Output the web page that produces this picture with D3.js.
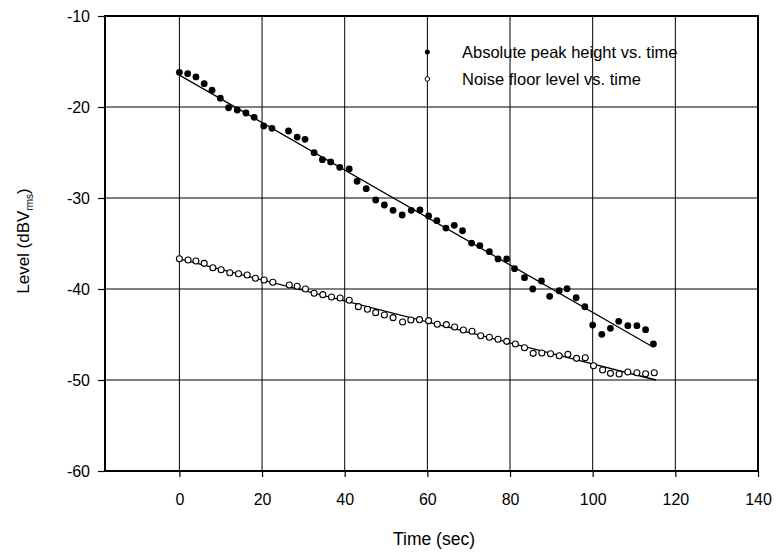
<!DOCTYPE html>
<html><head><meta charset="utf-8">
<script src="https://cdn.jsdelivr.net/npm/d3@7"></script>
<style>
html,body{margin:0;padding:0;background:#fff;}
text{font-family:"Liberation Sans",Arial,Helvetica,sans-serif;fill:#000;}
</style></head>
<body>
<svg id="chart" width="779" height="556"></svg>
<script>
// ---- data ----
const peakTime = [0,2.0,4.0,6.0,7.9,9.9,11.9,14.0,16.1,18.1,20.4,22.4,26.4,28.5,30.4,32.6,34.6,36.6,38.8,41.1,43.0,45.2,47.5,49.6,51.7,53.9,56.1,58.2,60.3,62.3,64.5,66.5,68.5,70.7,72.7,75.0,77.1,79.2,81.1,83.5,85.5,87.6,89.6,91.9,93.8,96.0,98.1,100.0,102.2,104.3,106.3,108.5,110.7,112.8,114.7];
const peakLevel = [-16.19,-16.34,-16.70,-17.44,-18.16,-19.04,-20.08,-20.33,-20.66,-21.13,-22.09,-22.34,-22.64,-23.30,-23.55,-25.02,-25.79,-26.04,-26.63,-26.81,-28.16,-28.97,-30.22,-30.77,-31.35,-31.87,-31.35,-31.32,-31.98,-32.49,-33.30,-33.0,-33.6,-34.95,-35.24,-35.9,-36.70,-36.70,-37.77,-38.76,-40.0,-39.12,-40.80,-40.19,-39.97,-40.96,-41.95,-43.96,-44.98,-44.32,-43.55,-44.03,-44.03,-44.47,-46.04];
const noiseTime = [0,2.1,4.0,6.0,8.1,10.1,12.2,14.3,16.4,18.4,20.5,22.6,26.6,28.5,30.5,32.6,34.7,36.8,38.9,41.1,43.3,45.5,47.5,49.6,51.7,54.0,56.0,58.1,60.3,62.4,64.6,66.6,68.7,70.8,72.9,75.0,77.1,79.2,81.3,83.5,85.6,87.7,89.8,91.9,94.0,96.1,98.2,100.2,102.4,104.3,106.4,108.5,110.7,112.8,114.9];
const noiseLevel = [-36.67,-36.81,-36.92,-37.18,-37.66,-37.88,-38.21,-38.32,-38.46,-38.82,-39.01,-39.26,-39.56,-39.70,-40.0,-40.47,-40.62,-40.88,-40.99,-41.24,-41.94,-42.23,-42.60,-42.86,-43.15,-43.63,-43.41,-43.37,-43.48,-43.88,-43.92,-44.18,-44.51,-44.65,-45.13,-45.31,-45.53,-45.75,-46.04,-46.45,-47.07,-47.03,-47.11,-47.33,-47.18,-47.62,-47.55,-48.43,-48.90,-49.27,-49.34,-49.12,-49.20,-49.31,-49.20];
const peakFitTime = [0,114.7];
const peakFitLevel = [-16.5,-46.4];
const noiseFitTime = [0,115.3];
const noiseFitLevel = [-36.7,-50.0];
const xTicks = [0,20,40,60,80,100,120,140];
const yTicks = [-60,-50,-40,-30,-20,-10];
const legendLabels = ["Absolute peak height vs. time","Noise floor level vs. time"];
const xTitle = "Time (sec)";

// ---- layout ----
const L = 105, R = 758, T = 16, B = 471;
const x = d3.scaleLinear().domain([-18,140]).range([L,R]);
const y = d3.scaleLinear().domain([-60,-10]).range([B,T]);
const svg = d3.select("#chart");

// grid
const g = svg.append("g");
g.selectAll(".vg").data(xTicks).join("line")
  .attr("x1",d=>x(d)).attr("x2",d=>x(d)).attr("y1",T).attr("y2",B)
  .attr("stroke","#000").attr("stroke-width",1);
g.selectAll(".hg").data(yTicks).join("line")
  .attr("x1",L).attr("x2",R).attr("y1",d=>y(d)).attr("y2",d=>y(d))
  .attr("stroke","#000").attr("stroke-width",1);

// axes
const fmt = d => String(d);
const xAxis = d3.axisBottom(x).tickValues(xTicks).tickSize(6).tickPadding(17).tickFormat(fmt);
const yAxis = d3.axisLeft(y).tickValues(yTicks).tickSize(7).tickPadding(8).tickFormat(fmt);
const gx = svg.append("g").attr("transform",`translate(0,${B})`).call(xAxis);
const gy = svg.append("g").attr("transform",`translate(${L},0)`).call(yAxis);
[gx,gy].forEach(a=>{
  a.select(".domain").remove();
  a.selectAll(".tick line").attr("stroke","#000").attr("stroke-width",1.2);
  a.selectAll(".tick text").style("font-size","16px").attr("fill","#000");
});
gy.selectAll(".tick text").attr("dy","0.35em");

// frame
svg.append("rect").attr("x",L).attr("y",T).attr("width",R-L).attr("height",B-T)
  .attr("fill","none").attr("stroke","#000").attr("stroke-width",2);

// fit lines
const line = d3.line().x(d=>x(d[0])).y(d=>y(d[1]));
svg.append("path").datum(d3.zip(peakFitTime,peakFitLevel)).attr("d",line)
  .attr("fill","none").attr("stroke","#000").attr("stroke-width",1.3);
svg.append("path").datum(d3.zip(noiseFitTime,noiseFitLevel)).attr("d",line)
  .attr("fill","none").attr("stroke","#000").attr("stroke-width",1.3);

// points
svg.append("g").selectAll("circle").data(d3.zip(noiseTime,noiseLevel)).join("circle")
  .attr("cx",d=>x(d[0])).attr("cy",d=>y(d[1])).attr("r",3)
  .attr("fill","#fff").attr("stroke","#000").attr("stroke-width",1.1);
svg.append("g").selectAll("circle").data(d3.zip(peakTime,peakLevel)).join("circle")
  .attr("cx",d=>x(d[0])).attr("cy",d=>y(d[1])).attr("r",3.4)
  .attr("fill","#000");

// legend
const lg = svg.append("g");
const lx = x(60);
lg.append("circle").attr("cx",lx).attr("cy",52).attr("r",2.5).attr("fill","#000");
lg.append("circle").attr("cx",lx).attr("cy",79).attr("r",2.3).attr("fill","#fff").attr("stroke","#000").attr("stroke-width",1);
lg.append("text").attr("x",462).attr("y",57.5).style("font-size","16.5px").text(legendLabels[0]);
lg.append("text").attr("x",462).attr("y",84.5).style("font-size","16.5px").text(legendLabels[1]);

// axis titles
svg.append("text").attr("x",434).attr("y",545).attr("text-anchor","middle")
  .style("font-size","17.5px").text(xTitle);
const yt = svg.append("text").attr("transform","translate(29,241) rotate(-90)")
  .attr("text-anchor","middle").style("font-size","17px");
yt.append("tspan").text("Level (dBV");
yt.append("tspan").attr("dy",4).style("font-size","10px").text("rms");
yt.append("tspan").attr("dy",-4).text(")");
</script>
</body></html>
